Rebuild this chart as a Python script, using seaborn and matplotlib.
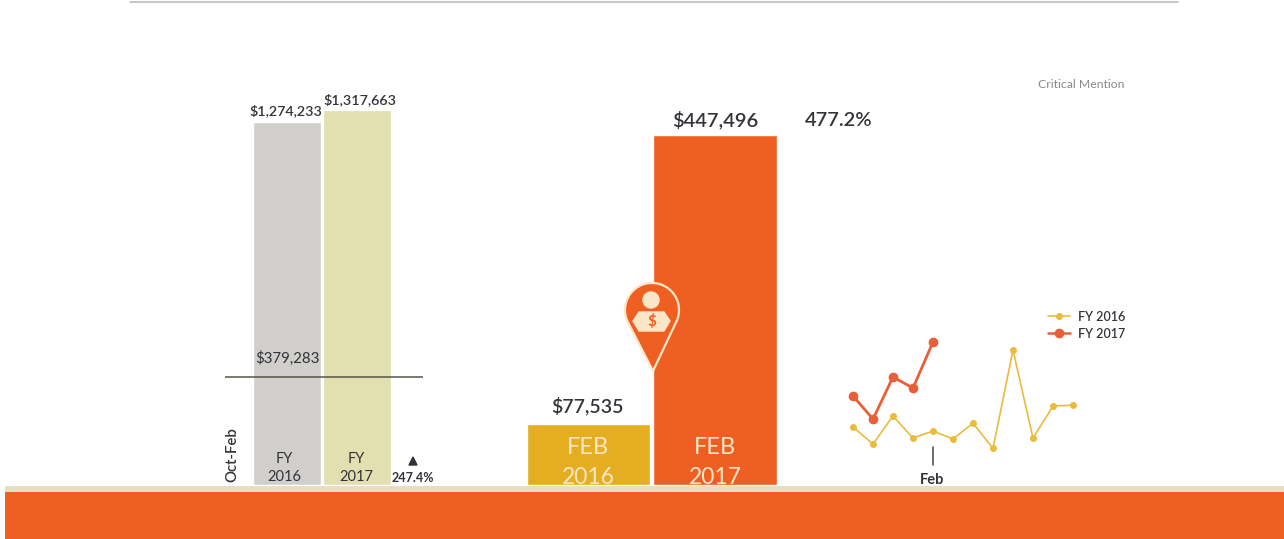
import numpy as np
import pandas as pd
import matplotlib
matplotlib.use('Agg')
import matplotlib.pyplot as plt
import seaborn as sns
from matplotlib.patches import Rectangle, Circle, Polygon

# chart values
fy_labels = ['FY 2016', 'FY 2017']
fy_totals = [1274233, 1317663]
oct_feb_2016 = 379283
feb_labels = ['FEB 2016', 'FEB 2017']
feb_values = [77535, 447496]
months = ['Oct', 'Nov', 'Dec', 'Jan', 'Feb', 'Mar', 'Apr', 'May', 'Jun', 'Jul', 'Aug', 'Sep']
monthly_2016 = [94000, 23000, 140000, 48000, 77535, 44000, 110000, 5000, 414000, 48000, 181000, 185000]
monthly_2017 = [223000, 127000, 302000, 256000, 447496]

W, H = 1284, 539
GREY, KHAKI, GOLD, ORANGE = '#D1CFCB', '#E2DFB0', '#E5AE20', '#EF5F22'
CREAM = '#FBE6C8'
DARK = '#33343A'

sns.set_theme(style='white')
plt.rcParams['font.family'] = ['Lato', 'DejaVu Sans']

fig = plt.figure(figsize=(W / 100, H / 100), dpi=100, facecolor='white')


def px_axes(left, top, right, bottom):
    # axes placed with the picture's pixel coordinates
    ax = fig.add_axes([left / W, 1 - bottom / H, (right - left) / W, (bottom - top) / H])
    ax.patch.set_alpha(0)
    return ax


def strip(ax):
    ax.set_xlabel('')
    ax.set_ylabel('')
    ax.set_xticks([])
    ax.set_yticks([])
    sns.despine(ax=ax, left=True, bottom=True)


# left bars: total per fiscal year, line at Oct-Feb FY2016
ax1 = px_axes(225, 60, 423, 485)
df1 = pd.DataFrame({'fy': fy_labels, 'total': fy_totals})
sns.barplot(data=df1, x='fy', y='total', hue='fy', palette=[GREY, KHAKI], width=0.98,
            legend=False, saturation=1, ax=ax1)
ax1.set_xlim((225 - 287) / 70, (423 - 287) / 70)
ax1.set_ylim(0, 1317663 * 425 / 375)
ax1.axhline(oct_feb_2016, color='#55554A', lw=1.1)
strip(ax1)

# middle bars: February
ax2 = px_axes(520, 60, 785, 485)
df2 = pd.DataFrame({'month': feb_labels, 'value': feb_values})
sns.barplot(data=df2, x='month', y='value', hue='month', palette=[GOLD, ORANGE], width=0.98,
            legend=False, saturation=1, ax=ax2)
ax2.set_xlim((520 - 588.5) / 126.5, (785 - 588.5) / 126.5)
ax2.set_ylim(0, 447496 * 425 / 350)
strip(ax2)

# right: monthly lines
ax3 = px_axes(833, 300, 1093, 485)
df3 = pd.DataFrame({
    'pos': list(range(len(monthly_2016))) + list(range(len(monthly_2017))),
    'value': monthly_2016 + monthly_2017,
    'year': ['FY 2016'] * len(monthly_2016) + ['FY 2017'] * len(monthly_2017),
})
sns.lineplot(data=df3, x='pos', y='value', hue='year', size='year', sizes=[1.2, 2.0],
             palette=['#E9BB3E', '#E8603A'], ax=ax3, legend=False)
ax3.plot(range(len(monthly_2016)), monthly_2016, ls='', marker='o', ms=4.0, color='#E9BB3E')
ax3.plot(range(len(monthly_2017)), monthly_2017, ls='', marker='o', ms=6.0, color='#E8603A')
ax3.set_xlim(-1, 12)
ax3.set_ylim(-147000, 622000)
strip(ax3)

# overlay in pixel coordinates for the labels and decoration
ov = fig.add_axes([0, 0, 1, 1], zorder=5)
ov.set_xlim(0, W)
ov.set_ylim(H, 0)
ov.axis('off')


def label(x, y, s, size, color=DARK, weight='normal', **kw):
    ov.text(x, y, s, fontsize=size, color=color, fontweight=weight,
            ha='center', va='center', **kw)


label(286, 111, '$1,274,233', 10.3, weight='semibold')
label(360, 100, '$1,317,663', 10.3, weight='semibold')
label(287, 358, '$379,283', 10.8)
label(232, 455, 'Oct-Feb', 10.8, weight='semibold', rotation=90)
label(284, 459, 'FY', 10.5)
label(284, 477, '2016', 10.5)
label(356, 459, 'FY', 10.5)
label(356, 477, '2017', 10.5)
ov.add_patch(Polygon([(409, 465), (417, 465), (413, 457)], color=DARK))
label(413, 478, '247.4%', 9, weight='bold')

label(715, 120, '$447,496', 14.5, weight='semibold')
label(839, 120, '477.2%', 14.5, weight='semibold')
label(587, 406, '$77,535', 14, weight='semibold')
label(588, 447, 'FEB', 17, color=CREAM)
label(588, 477, '2016', 16.5, color=CREAM)
label(715, 447, 'FEB', 17, color=CREAM)
label(715, 477, '2017', 16.5, color=CREAM)

label(1081.5, 84, 'Critical Mention', 8.8, color='#8A8A8A')

# legend drawn beside the lines
ov.plot([1048, 1070], [316, 316], color='#E9BB3E', lw=1.2, marker='', zorder=3)
ov.plot([1059], [316], marker='o', ms=4, color='#E9BB3E')
ov.plot([1048, 1070], [333, 333], color='#E8603A', lw=1.8)
ov.plot([1059], [333], marker='o', ms=6, color='#E8603A')
ov.text(1078, 317, 'FY 2016', fontsize=9, color=DARK, fontweight='semibold', va='center')
ov.text(1078, 334, 'FY 2017', fontsize=9, color=DARK, fontweight='semibold', va='center')

# Feb marker
ov.plot([933, 933], [447, 465], color='#444444', lw=1.1)
label(932, 480, 'Feb', 10.5, weight='bold')

# map pin
cx, cy, r, tip = 652, 310, 27, (653, 371)
alpha = np.arccos(r / (tip[1] - cy))
theta = np.linspace(np.pi / 2 + alpha, 2.5 * np.pi - alpha, 60)
pin = np.column_stack([cx + r * np.cos(theta), cy + r * np.sin(theta)])
ov.add_patch(Polygon(np.vstack([pin, tip]), closed=True, facecolor=ORANGE, edgecolor=CREAM, lw=1.6, zorder=4))
ov.add_patch(Circle((651, 300), 8, color=CREAM, zorder=5))
ov.add_patch(Polygon([(633, 321), (639, 312), (664, 312), (670, 321), (664, 331), (639, 331)],
                     color=CREAM, zorder=5))
ov.text(651.5, 321, '$', fontsize=11, color=ORANGE, fontweight='bold', ha='center', va='center', zorder=6)

# page decoration
ov.plot([130, 1178], [2, 2], color='#BDBDBD', lw=1.2)
ov.add_patch(Rectangle((5, 485.5), W - 5, 7, color='#E6DFC0', lw=0, zorder=7))
ov.add_patch(Rectangle((5, 492), W - 5, H - 492, color=ORANGE, lw=0, zorder=8))

fig.savefig('out.png', dpi=100)
